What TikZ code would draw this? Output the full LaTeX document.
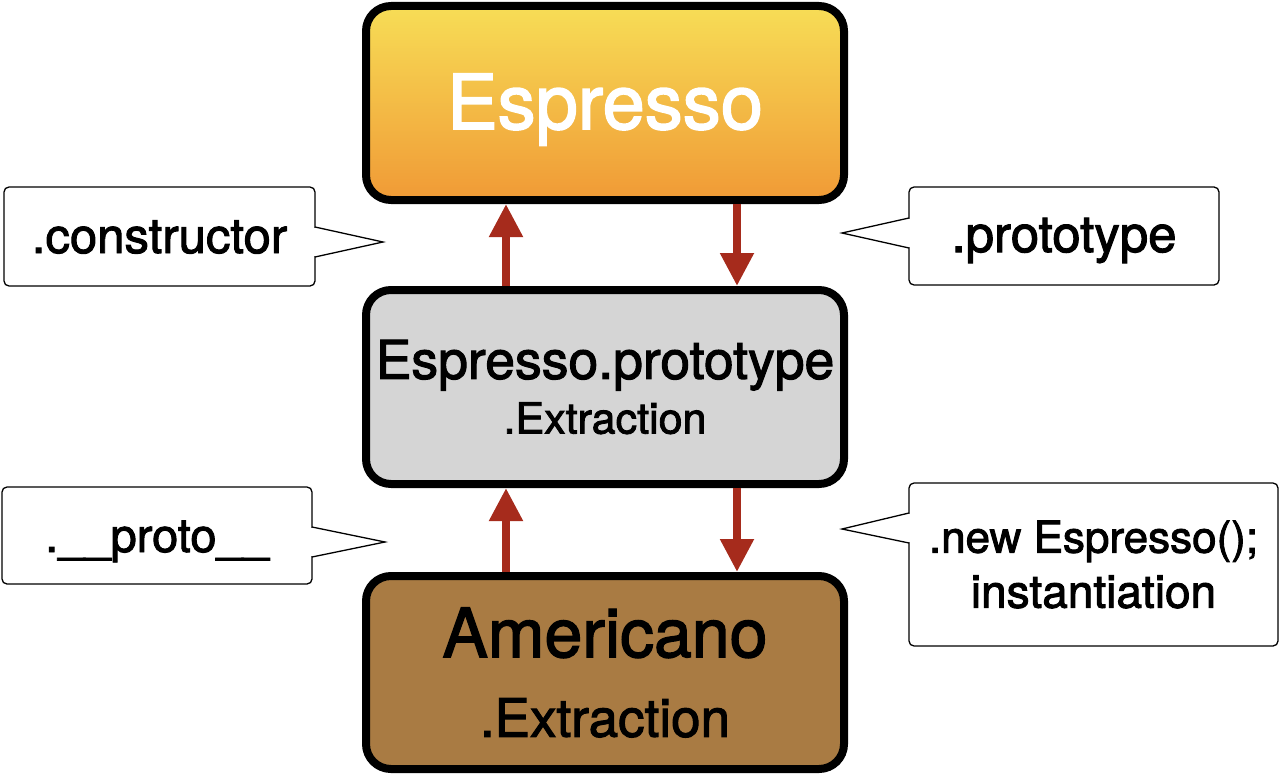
\documentclass[tikz,border=0pt]{standalone}
\usepackage{fontspec}
\setmainfont{TeX Gyre Heros}
\newfontfamily\medfont{TeX Gyre Heros}[FakeBold=2]
\usetikzlibrary{arrows.meta,calc}
\definecolor{espTop}{RGB}{247,221,86}
\definecolor{espBot}{RGB}{240,154,54}
\definecolor{protoGray}{RGB}{213,213,213}
\definecolor{ameriBrown}{RGB}{169,123,67}
\definecolor{arrowRed}{RGB}{166,43,28}
\tikzset{
  mainbox/.style={draw=black, line width=8pt, rounded corners=25pt,
    minimum width=478pt, align=center, inner sep=0pt},
  callbox/.style={draw=black, line width=1.3pt, rounded corners=5pt, fill=white,
    inner sep=0pt, outer sep=0pt, align=center},
  ptr/.style={draw=black, line width=1.3pt, line join=miter},
  flow/.style={draw=arrowRed, line width=8pt, -{Triangle[width=32pt,length=33pt]}}
}
\begin{document}
\begin{tikzpicture}[x=1pt,y=-1pt]
\useasboundingbox (0,0) rectangle (1280,776);
% main boxes
\node[mainbox, minimum height=194pt, top color=espTop, bottom color=espBot,
  text=white, text height=52pt, text depth=0pt,
  font=\medfont\fontsize{76}{80}\selectfont] (top) at (605,103) {Espresso};
\node[mainbox, minimum height=194pt, fill=protoGray, font=\medfont] (mid) at (605,387)
  {\fontsize{53.5}{12}\selectfont Espresso.prototype\\[10.7pt]\fontsize{43}{12}\selectfont .Extraction};
\node[mainbox, minimum height=193pt, fill=ameriBrown, font=\medfont] (bot) at (605,672.5)
  {\fontsize{68}{12}\selectfont Americano\\[39pt]\fontsize{53}{12}\selectfont .Extraction};
% arrows
\coordinate (ax1) at (506,0);
\coordinate (ax2) at (737,0);
\draw[flow] (mid.north -| ax1) -- (top.south -| ax1);
\draw[flow] (top.south -| ax2) -- (mid.north -| ax2);
\draw[flow] (bot.north -| ax1) -- (mid.south -| ax1);
\draw[flow] (mid.south -| ax2) -- (bot.north -| ax2);
% callouts
\node[callbox, minimum width=311pt, minimum height=99pt, text height=33pt, text depth=0pt,
  font=\medfont\fontsize{49}{52}\selectfont] (c1) at (159.5,236.5) {.constructor};
\fill[white] ($(c1.east)+(-2,-8.5)$) rectangle ($(c1.east)+(1,19.5)$);
\fill[white] ($(c1.east)+(0,-9.5)$) -- ($(c1.east)+(68,5.5)$) -- ($(c1.east)+(0,20.5)$) -- cycle;
\draw[ptr] ($(c1.east)+(0,-9.5)$) -- ($(c1.east)+(68,5.5)$) -- ($(c1.east)+(0,20.5)$);

\node[callbox, minimum width=310pt, minimum height=98pt, text height=32pt, text depth=0pt,
  font=\medfont\fontsize{51}{52}\selectfont] (c2) at (1064,236) {.prototype};
\fill[white] ($(c2.west)+(-1,-17)$) rectangle ($(c2.west)+(2,11)$);
\fill[white] ($(c2.west)+(0,-18)$) -- ($(c2.west)+(-67,-3)$) -- ($(c2.west)+(0,12)$) -- cycle;
\draw[ptr] ($(c2.west)+(0,-18)$) -- ($(c2.west)+(-67,-3)$) -- ($(c2.west)+(0,12)$);

\node[callbox, minimum width=310pt, minimum height=97pt, text height=33pt, text depth=0pt,
  font=\medfont\fontsize{47}{52}\selectfont] (c3) at (157,535.5) {.\_\_proto\_\_};
\fill[white] ($(c3.east)+(-2,-7.5)$) rectangle ($(c3.east)+(1,20.5)$);
\fill[white] ($(c3.east)+(0,-8.5)$) -- ($(c3.east)+(73,6.5)$) -- ($(c3.east)+(0,21.5)$) -- cycle;
\draw[ptr] ($(c3.east)+(0,-8.5)$) -- ($(c3.east)+(73,6.5)$) -- ($(c3.east)+(0,21.5)$);

\node[callbox, minimum width=369pt, minimum height=163pt, font=\medfont] (c4) at (1093.5,564.5)
  {\fontsize{44}{12}\selectfont .new Espresso();\\[12pt]\fontsize{46}{12}\selectfont instantiation};
\fill[white] ($(c4.west)+(-1,-50.5)$) rectangle ($(c4.west)+(2,-22.5)$);
\fill[white] ($(c4.west)+(0,-51.5)$) -- ($(c4.west)+(-67,-35.5)$) -- ($(c4.west)+(0,-21.5)$) -- cycle;
\draw[ptr] ($(c4.west)+(0,-51.5)$) -- ($(c4.west)+(-67,-35.5)$) -- ($(c4.west)+(0,-21.5)$);
\end{tikzpicture}
\end{document}
